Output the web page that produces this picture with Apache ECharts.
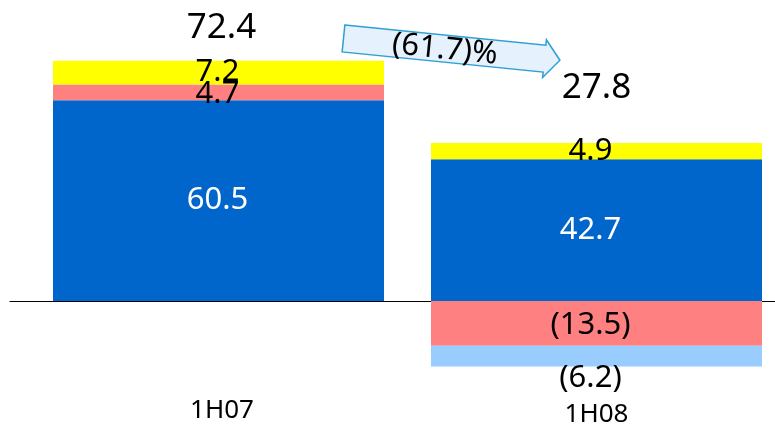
<!DOCTYPE html>
<html>
<head>
<meta charset="utf-8">
<script src="https://cdn.jsdelivr.net/npm/echarts@6/dist/echarts.min.js"></script>
<style>html,body{margin:0;padding:0;background:#fff}#c{width:775px;height:425px}</style>
</head>
<body>
<div id="c"></div>
<script>
// ---- data ----
const categories = ['1H07', '1H08'];
const segBlue = [60.5, 42.7];
const segPink = [4.7, -13.5];
const segYellow = [7.2, 4.9];
const segLightBlue = [null, -6.2];
const totals = [72.4, 27.8];
const changeLabel = '(61.7)%';

// ---- presentation ----
const FONT = 'Noto Sans';
const labelDx = [-1, -6];
const segs = [segBlue, segPink, segYellow, segLightBlue];
const posTop = categories.map((c, i) => segs.reduce((s, a) => s + (a[i] > 0 ? a[i] : 0), 0));
const totalOffsets = [[3, -33], [0, -55]];

function fmt(v) {
  const n = typeof v === 'object' ? v.value : v;
  if (n == null) return '';
  return n < 0 ? '(' + Math.abs(n).toFixed(1) + ')' : n.toFixed(1);
}
function items(arr, dy) {
  return arr.map((v, i) => ({ value: v, label: { offset: [labelDx[i], dy ? dy[i] : 0] } }));
}
function barSeries(name, arr, color, textColor, dy) {
  return {
    type: 'bar', name, stack: 'a', barWidth: 331,
    xAxisIndex: 0, yAxisIndex: 0,
    itemStyle: { color },
    label: {
      show: true, position: 'inside', color: textColor,
      fontFamily: FONT, fontSize: 31,
      formatter: p => fmt(p.value)
    },
    data: items(arr, dy)
  };
}

const chart = echarts.init(document.getElementById('c'));
chart.setOption({
  animation: false,
  backgroundColor: '#fff',
  grid: [
    { left: 29.5, width: 756, top: 35.4, height: 365.2, outerBoundsMode: 'none', containLabel: false },
    { left: 10, right: 0, top: 35.4, height: 365.2, outerBoundsMode: 'none', containLabel: false }
  ],
  xAxis: [
    {
      type: 'category', gridIndex: 0,
      data: [
        { value: categories[0], textStyle: { padding: [0, 0, 0, 7] } },
        { value: categories[1], textStyle: { padding: [4, 0, 0, 0] } }
      ],
      position: 'bottom',
      axisLine: { show: false }, axisTick: { show: false },
      axisLabel: { color: '#000', fontFamily: FONT, fontSize: 26, margin: -3 }
    },
    {
      type: 'value', gridIndex: 1, min: 0, max: 1,
      axisLine: { show: true, onZero: true, lineStyle: { color: '#000', width: 1.2 } },
      axisTick: { show: false }, axisLabel: { show: false }, splitLine: { show: false }
    }
  ],
  yAxis: [
    { type: 'value', gridIndex: 0, min: -30, max: 80, show: false, splitLine: { show: false } },
    { type: 'value', gridIndex: 1, min: -30, max: 80, show: false, splitLine: { show: false } }
  ],
  series: [
    barSeries('blue', segBlue, '#0066CC', '#fff'),
    barSeries('pink', segPink, '#FF8080', '#000', [2, 2]),
    barSeries('yellow', segYellow, '#FFFF00', '#000', [0, 0]),
    barSeries('lightblue', segLightBlue, '#99CCFF', '#000', [0, 22]),
    {
      type: 'scatter', xAxisIndex: 0, yAxisIndex: 0,
      symbolSize: 0, itemStyle: { color: '#000' },
      label: {
        show: true, position: 'inside', color: '#000', opacity: 1,
        fontFamily: FONT, fontSize: 35,
        formatter: p => totals[p.dataIndex].toFixed(1)
      },
      data: categories.map((c, i) => ({ value: [c, posTop[i]], label: { offset: totalOffsets[i] } })),
      z: 5
    }
  ],
  graphic: [
    {
      type: 'group', x: 343.5, y: 38.5, rotation: -0.1,
      children: [
        {
          type: 'polygon',
          shape: { points: [[0, -13.5], [202, -13.5], [202, -19], [217.5, 0], [202, 19], [202, 13.5], [0, 13.5]] },
          style: { fill: '#E5F1FC', stroke: '#2E9FD4', lineWidth: 1.5 }
        },
        {
          type: 'text', x: 102, y: 1,
          style: { text: changeLabel, fill: '#000', font: '31px "Noto Sans"', textAlign: 'center', textVerticalAlign: 'middle' }
        }
      ]
    }
  ]
});
</script>
</body>
</html>
